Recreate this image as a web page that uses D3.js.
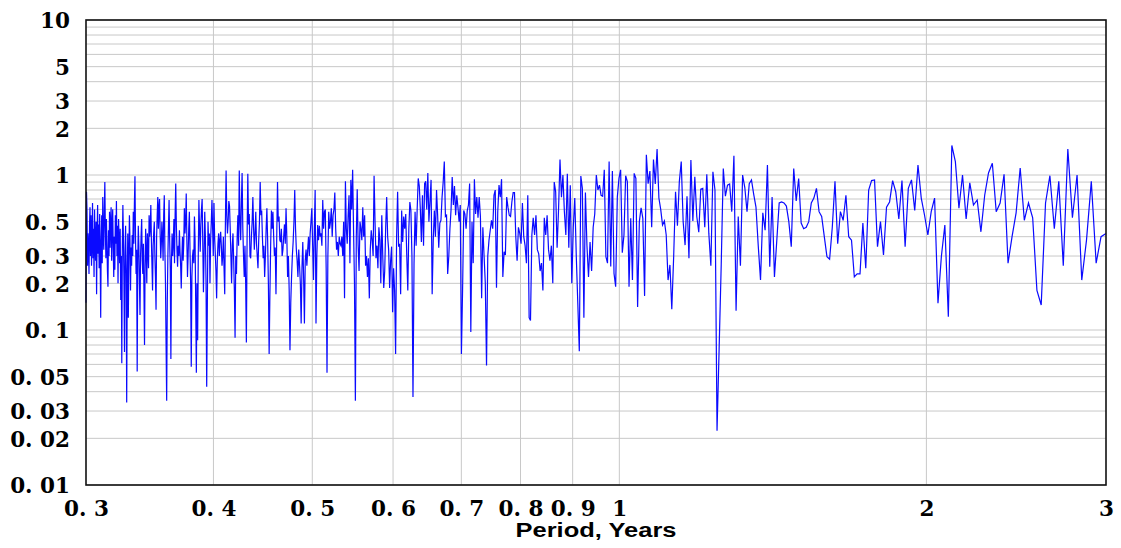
<!DOCTYPE html>
<html>
<head>
<meta charset="utf-8">
<script src="https://cdn.jsdelivr.net/npm/d3@7/dist/d3.min.js"></script>
<style>
  html, body { margin: 0; padding: 0; background: #fff; }
  svg { display: block; }
</style>
</head>
<body>
<svg id="chart" width="1121" height="548"></svg>
<script>
// ---- Data ----
// Spectrum sampled on a uniform frequency grid (cycles/year), plotted against period (years)
const freqStart = 1 / 0.3;     // highest frequency (period 0.3 yr)
const freqStep = 0.00375;      // frequency resolution

// power values, ordered by increasing period (0.3 -> 3 years)
const power = [
  0.15,0.78,0.59,0.26,0.42,0.34,0.23,0.47,0.62,0.3,0.55,0.26,0.38,0.66,0.29,0.45,0.22,0.6,0.35,0.28,0.5,0.17,0.42,0.64,0.31,0.48,0.25,0.56,
  0.3,0.12,0.38,0.55,0.27,0.72,0.4,0.33,0.6,0.9,0.45,0.29,0.52,0.36,0.24,0.19,0.44,0.3,0.58,
  0.34,0.5,0.62,0.28,0.46,0.6,0.33,0.22,0.4,0.245,0.55,0.36,0.68,0.3,0.47,0.2,0.52,0.38,0.27,
  0.45,0.156,0.3,0.061,0.35,0.64,0.4,0.2,0.072,0.32,0.47,0.25,0.034,0.2,0.42,0.12,0.3,0.55,0.38,
  0.18,0.34,0.26,0.41,0.3,0.58,0.36,0.65,0.98,0.4,0.23,0.33,0.054,0.28,0.47,0.35,0.2,0.125,
  0.3,0.41,0.52,0.28,0.23,0.36,0.18,0.08,0.26,0.45,0.31,0.2,0.42,0.34,0.25,0.55,0.4,
  0.45,0.64,0.38,0.26,0.18,0.35,0.42,0.5,0.3,0.22,0.135,0.4,0.55,0.72,0.45,0.62,0.7,
  0.42,0.29,0.36,0.5,0.4,0.28,0.55,0.74,0.33,0.2,0.081,0.035,0.15,0.3,0.46,0.69,0.38,
  0.25,0.065,0.28,0.42,0.3,0.36,0.52,0.27,0.55,0.88,0.48,0.33,0.256,0.35,0.3,0.44,0.32,
  0.26,0.185,0.3,0.4,0.28,0.36,0.61,0.42,0.5,0.76,0.38,0.22,0.3,0.45,0.58,0.33,
  0.2,0.058,0.22,0.3,0.33,0.27,0.54,0.38,0.15,0.053,0.2,0.086,0.3,0.69,0.45,
  0.32,0.48,0.6,0.7,0.36,0.175,0.3,0.58,0.4,0.2,0.043,0.15,0.5,0.35,0.42,0.2,
  0.38,0.5,0.69,0.45,0.3,0.66,0.4,0.31,0.24,0.16,0.28,0.36,0.42,0.3,0.38,
  0.43,0.35,0.26,0.3,0.4,0.25,0.17,0.5,1.07,0.55,0.42,0.5,0.68,0.63,
  0.45,0.3,0.2,0.35,0.42,0.28,0.18,0.089,0.3,0.23,0.4,0.55,0.35,1.07,0.5,
  0.38,0.66,1.03,0.45,0.3,0.22,0.35,0.2,0.083,0.4,1.02,0.48,0.56,0.3,
  0.29,0.4,0.5,0.72,0.45,0.33,0.42,0.58,0.36,0.3,0.25,0.38,0.5,0.9,
  0.55,0.59,0.4,0.29,0.35,0.22,0.3,0.45,0.61,0.38,0.2,0.07,0.17,
  0.35,0.59,0.45,0.58,0.4,0.3,0.34,0.17,0.4,0.9,0.5,0.54,0.38,
  0.37,0.45,0.3,0.33,0.4,0.48,0.36,0.61,0.4,0.22,0.3,0.18,0.074,
  0.15,0.22,0.3,0.37,0.5,0.8,0.45,0.33,0.28,0.22,0.33,0.26,
  0.2,0.11,0.25,0.37,0.22,0.11,0.28,0.33,0.26,0.33,0.4,0.3,
  0.42,0.5,0.61,0.35,0.21,0.45,0.8,0.11,0.3,0.475,0.38,0.47,
  0.4,0.42,0.35,0.69,0.45,0.58,0.6,0.25,0.053,0.3,0.58,0.45,
  0.5,0.61,0.4,0.55,0.6,0.77,0.45,0.33,0.37,0.3,0.4,0.36,
  0.35,0.4,0.3,0.5,0.16,0.91,0.45,0.36,0.55,0.74,0.27,
  0.93,0.6,1.08,0.44,0.2,0.035,0.4,0.81,0.35,0.24,0.5,
  0.45,0.38,0.62,0.4,0.55,0.26,0.3,0.22,0.29,0.16,
  0.33,0.44,0.38,0.3,0.99,0.5,0.29,0.35,0.25,0.46,0.38,
  0.2,0.55,0.3,0.187,0.24,0.46,0.72,0.4,0.33,0.187,
  0.28,0.345,0.13,0.25,0.18,0.07,0.4,0.78,0.345,0.36,
  0.17,0.59,0.37,0.54,0.45,0.56,0.3,0.18,0.45,0.67,
  0.59,0.3,0.037,0.27,0.58,0.35,0.6,0.95,0.85,
  0.6,0.37,0.74,0.35,0.88,0.91,0.6,1.03,0.5,0.68,
  0.93,0.17,0.38,0.59,0.4,0.8,0.55,0.34,0.49,
  0.51,0.72,0.9,1.22,0.54,0.55,0.23,0.3,0.45,
  0.6,0.97,0.64,0.85,0.55,0.74,0.62,0.5,
  0.64,0.07,0.18,0.59,0.56,0.45,0.59,0.64,0.88,
  0.097,0.5,0.27,0.94,0.56,0.72,0.53,0.72,
  0.54,0.16,0.46,0.3,0.2,0.059,0.3,0.38,
  0.44,0.51,0.45,0.74,0.8,0.187,0.58,0.86,
  0.72,0.94,0.22,0.32,0.305,0.72,0.62,0.55,
  0.54,0.67,0.77,0.77,0.4,0.28,0.46,0.42,
  0.36,0.66,0.40,0.35,0.27,0.74,0.12,
  0.115,0.41,0.53,0.41,0.55,0.33,0.31,0.24,
  0.27,0.18,0.53,0.41,0.55,0.33,0.28,
  0.35,0.2,0.9,0.78,0.34,0.6,1.26,
  0.72,1.0,0.58,0.41,1.02,0.34,
  0.86,0.2,0.46,0.71,0.3,0.15,0.073,
  0.985,0.82,0.12,0.77,0.35,0.22,
  0.37,0.24,0.46,0.56,1.0,0.8,
  0.86,0.74,0.73,1.08,0.297,0.27,1.22,0.257,1.06,0.232,0.19,0.72,0.95,1.08,0.315,0.41,0.99,0.906,0.19,0.525,
  0.21,1.025,0.95,0.141,0.50,0.615,0.525,0.166,1.35,0.88,1.06,0.46,1.26,0.875,1.47,0.71,0.6,0.475,0.505,0.41,
  0.21,0.263,0.136,0.297,0.78,0.47,0.906,1.22,0.50,0.353,0.73,0.29,1.25,0.505,0.975,0.54,0.427,0.81,0.82,0.46,
  1.01,0.42,0.26,1.05,0.80,0.0224,0.075,0.26,1.10,0.73,0.86,0.875,0.58,1.33,0.133,0.54,0.26,1.0,0.83,0.58,0.88,
  0.93,0.75,0.62,0.35,0.21,0.57,0.44,1.16,0.256,0.72,0.22,0.38,0.66,0.67,0.66,0.63,0.5,0.345,1.10,0.68,
  0.95,0.49,0.45,0.46,0.50,0.66,0.71,0.82,0.58,0.54,0.40,0.297,0.286,0.46,0.91,0.36,0.58,0.51,0.74,0.40,
  0.38,0.22,0.23,0.23,0.49,0.25,0.80,0.92,0.93,0.345,0.50,0.305,0.62,0.67,0.92,0.78,0.52,0.92,0.345,0.82,
  0.93,0.59,1.16,0.71,0.55,
  0.41,0.58,0.71,0.149,0.3,0.475,0.122,1.55,1.22,0.61,1.0,0.52,0.89,0.64,0.69,0.43,0.74,1.03,1.19,0.58,
  0.66,1.01,0.27,0.40,0.57,1.11,0.51,0.66,0.53,0.18,0.145,0.66,0.99,0.45,0.91,0.26,1.47,0.53,1.0,0.21,
  0.38,0.91,0.27,0.40,0.42
];

const xTickValues = [0.3, 0.4, 0.5, 0.6, 0.7, 0.8, 0.9, 1, 2, 3];
const xTickLabels = ["0. 3","0. 4","0. 5","0. 6","0. 7","0. 8","0. 9","1","2","3"];
const xGridValues = [0.4, 0.5, 0.6, 0.7, 0.8, 0.9, 1, 2];
const yTickValues = [0.01, 0.02, 0.03, 0.05, 0.1, 0.2, 0.3, 0.5, 1, 2, 3, 5, 10];
const yTickLabels = ["0. 01","0. 02","0. 03","0. 05","0. 1","0. 2","0. 3","0. 5","1","2","3","5","10"];
const yGridMantissas = [1, 2, 3, 4, 5, 6, 7, 8, 9];
const yGridDecades = [0.01, 0.1, 1];
const xTitle = "Period, Years";

// ---- Layout ----
const svg = d3.select("#chart");
const plotL = 86, plotR = 1106, plotT = 20, plotB = 485;

const x = d3.scaleLog().domain([0.3, 3]).range([plotL, plotR]);
const y = d3.scaleLog().domain([0.01, 10]).range([plotB, plotT]);

const points = power.map((v, i) => ({ period: 1 / (freqStart - i * freqStep), value: v }));

// horizontal grid
const yGrid = [];
yGridDecades.forEach(d => yGridMantissas.forEach(m => yGrid.push(+(m * d).toPrecision(3))));
yGrid.push(10);
svg.append("g").selectAll("line").data(yGrid).join("line")
  .attr("x1", plotL).attr("x2", plotR)
  .attr("y1", d => y(d)).attr("y2", d => y(d))
  .attr("stroke", "#c8c8c8").attr("stroke-width", 1);

// vertical grid
svg.append("g").selectAll("line").data(xGridValues).join("line")
  .attr("x1", d => x(d)).attr("x2", d => x(d))
  .attr("y1", plotT).attr("y2", plotB)
  .attr("stroke", "#c8c8c8").attr("stroke-width", 1);

// data line
const line = d3.line().x(d => x(d.period)).y(d => y(d.value));
svg.append("path").datum(points)
  .attr("d", line)
  .attr("fill", "none")
  .attr("stroke", "#0a0aff")
  .attr("stroke-width", 1.2);

// frame
svg.append("rect")
  .attr("x", plotL).attr("y", plotT)
  .attr("width", plotR - plotL).attr("height", plotB - plotT)
  .attr("fill", "none").attr("stroke", "#111").attr("stroke-width", 1.6);

// axes
const tickFont = "'DejaVu Serif', serif";
const xAxis = d3.axisBottom(x).tickValues(xTickValues)
  .tickFormat((d, i) => xTickLabels[i]).tickSize(0).tickPadding(16);
const gx = svg.append("g").attr("transform", `translate(0,${plotB})`).call(xAxis);
gx.select(".domain").remove();
gx.selectAll("text").attr("font-family", tickFont).attr("font-weight", "bold")
  .attr("font-size", "21.5px").attr("fill", "#000");

const yAxis = d3.axisLeft(y).tickValues(yTickValues)
  .tickFormat((d, i) => yTickLabels[i]).tickSize(0).tickPadding(16);
const gy = svg.append("g").attr("transform", `translate(${plotL},0)`).call(yAxis);
gy.select(".domain").remove();
gy.selectAll("text").attr("font-family", tickFont).attr("font-weight", "bold")
  .attr("font-size", "21.5px").attr("fill", "#000").attr("dy", "0.36em");

// x title
svg.append("text")
  .attr("x", 596).attr("y", 537)
  .attr("text-anchor", "middle")
  .attr("font-family", "'Liberation Sans', Arial, sans-serif")
  .attr("font-weight", "bold").attr("font-size", "20px")
  .attr("textLength", 161).attr("lengthAdjust", "spacingAndGlyphs")
  .attr("fill", "#000")
  .text(xTitle);
</script>
</body>
</html>
